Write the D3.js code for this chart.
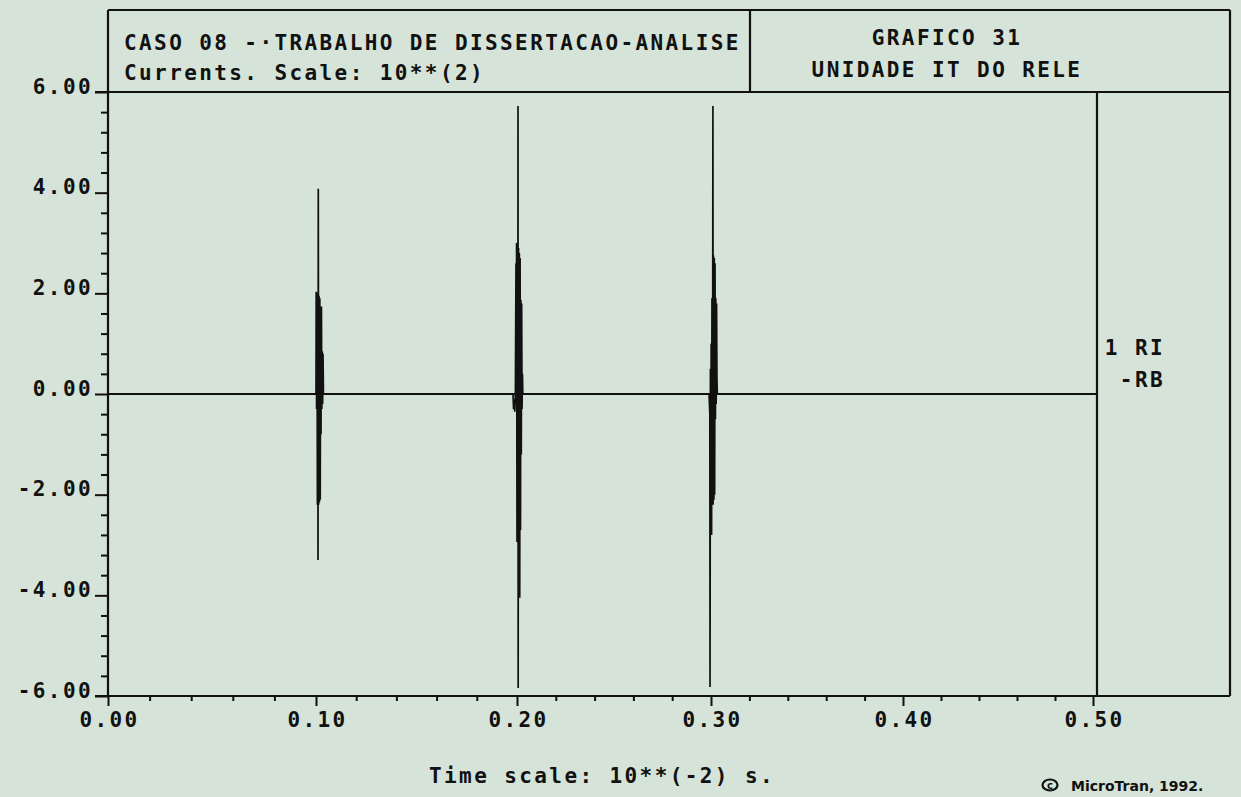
<!DOCTYPE html>
<html>
<head>
<meta charset="utf-8">
<script src="https://cdn.jsdelivr.net/npm/d3@7"></script>
<style>
  html, body { margin: 0; padding: 0; background: #d5e3d8; }
  svg { display: block; }
  .mono { font-family: "DejaVu Sans Mono", monospace; font-weight: bold; font-size: 21px; letter-spacing: 2.4px; fill: #111; }
</style>
</head>
<body>
<svg id="chart" width="1241" height="797"></svg>
<script>
// Header texts
const headerLeft = ["CASO 08 -·TRABALHO DE DISSERTACAO-ANALISE", "Currents. Scale: 10**(2)"];
const headerRight = ["GRAFICO 31", "UNIDADE IT DO RELE"];
const legendLines = ["1 RI", "-RB"];
const xTitle = "Time scale: 10**(-2) s.";
const credit = "MicroTran, 1992.";

// Axis ticks
const xMajorTicks = [0.00, 0.10, 0.20, 0.30, 0.40, 0.50];
const xMajorLabels = ["0.00", "0.10", "0.20", "0.30", "0.40", "0.50"];
const xMinorTicks = [0.02, 0.04, 0.06, 0.08, 0.12, 0.14, 0.16, 0.18, 0.22, 0.24, 0.26, 0.28,
                     0.32, 0.34, 0.36, 0.38, 0.42, 0.44, 0.46, 0.48];
const yMajorTicks = [-6, -4, -2, 0, 2, 4, 6];
const yMajorLabels = ["-6.00", "-4.00", "-2.00", "0.00", "2.00", "4.00", "6.00"];
const yMinorTicks = [-5.6, -5.2, -4.8, -4.4, -3.6, -3.2, -2.8, -2.4, -1.6, -1.2, -0.8, -0.4,
                     0.4, 0.8, 1.2, 1.6, 2.4, 2.8, 3.2, 3.6, 4.4, 4.8, 5.2, 5.6];

// Current RI-RB (x 10**2 A) against time (x 10**-2 s)
const timeValues = [
  0.0000, 0.1000,
  0.1001, 0.1003, 0.1005, 0.1007, 0.1009, 0.1010, 0.10114, 0.1013, 0.1015, 0.1017,
  0.1019, 0.1021, 0.1023, 0.1025, 0.1027, 0.1029, 0.1031, 0.1033, 0.1035, 0.1037,
  0.1980,
  0.1983, 0.1986, 0.1989, 0.1992, 0.19950, 0.19965, 0.1998, 0.2000, 0.2002, 0.2004,
  0.20052, 0.2006, 0.2008, 0.2010, 0.2012, 0.2014, 0.2016, 0.2018, 0.2020, 0.2022,
  0.2024, 0.2026, 0.2028, 0.2030,
  0.2990,
  0.2994, 0.2995, 0.2997, 0.2999, 0.3001, 0.3003, 0.3005, 0.3007, 0.3009, 0.3010,
  0.3011, 0.3013, 0.3015, 0.3017, 0.3019, 0.3021, 0.3023, 0.3025, 0.3027, 0.3029,
  0.3031, 0.3033,
  0.5000
];
const currentValues = [
  0, 0,
  2.03, -0.30, 2.00, -2.20, 2.00, -3.30, 4.08, -2.20, 1.95, -2.15,
  1.90, -2.10, 1.74, -0.80, 1.74, -0.30, 0.85, -0.20, 0.80, 0,
  0,
  -0.30, -0.10, -0.35, 0.05, 2.60, -0.20, 3.00, -2.94, 2.95, -2.90,
  5.72, -5.84, 2.90, -2.85, 2.80, -4.05, 2.70, -2.70, 1.87, -1.20,
  1.80, -0.30, 0.40, 0,
  0,
  -0.40, -5.82, 0.50, -2.20, 1.00, -2.80, 1.90, -2.20, 2.00, 5.72,
  -2.20, 2.75, -2.10, 2.70, -2.00, 2.60, -0.50, 1.90, -0.20, 1.80,
  0.30, 0,
  0
];

const svg = d3.select("#chart");
const ink = "#111";

// Frame geometry
const plotLeft = 108, plotRight = 1230, plotTop = 92, plotBottom = 696, headTop = 10;
const headSplit = 750, legendSplit = 1097;

const x = d3.scaleLinear()
  .domain(xMajorTicks)
  .range([108, 316, 517, 711, 903, 1093]);
const y = d3.scaleLinear().domain([-6, 6]).range([plotBottom, plotTop]);

svg.append("rect").attr("width", 1241).attr("height", 797).attr("fill", "#d5e3d8");

// Boxes and dividers
const frame = svg.append("g").attr("stroke", ink).attr("stroke-width", 2.2).attr("fill", "none");
frame.append("line").attr("x1", plotLeft).attr("x2", plotRight).attr("y1", headTop).attr("y2", headTop);
frame.append("line").attr("x1", plotLeft - 13).attr("x2", plotRight).attr("y1", plotTop).attr("y2", plotTop);
frame.append("line").attr("x1", plotLeft - 13).attr("x2", plotRight).attr("y1", plotBottom).attr("y2", plotBottom);
frame.append("line").attr("x1", plotLeft).attr("x2", plotLeft).attr("y1", headTop).attr("y2", plotBottom);
frame.append("line").attr("x1", plotRight).attr("x2", plotRight).attr("y1", headTop).attr("y2", plotBottom);
frame.append("line").attr("x1", headSplit).attr("x2", headSplit).attr("y1", headTop).attr("y2", plotTop);
frame.append("line").attr("x1", legendSplit).attr("x2", legendSplit).attr("y1", plotTop).attr("y2", plotBottom);

// Y axis ticks
const yMinor = svg.append("g").attr("transform", `translate(${plotLeft},0)`)
  .call(d3.axisLeft(y).tickValues(yMinorTicks).tickSize(7).tickFormat(""));
const yMajor = svg.append("g").attr("transform", `translate(${plotLeft},0)`)
  .call(d3.axisLeft(y).tickValues(yMajorTicks).tickSize(13).tickPadding(2)
    .tickFormat((d, i) => yMajorLabels[i]));
[yMinor, yMajor].forEach(g => {
  g.select(".domain").remove();
  g.selectAll(".tick line").attr("stroke", ink).attr("stroke-width", 2);
});
yMajor.attr("font-family", null).attr("font-size", null);
yMajor.selectAll(".tick text").attr("class", "mono").attr("dy", null).attr("y", 1);

// X axis ticks
const xMinor = svg.append("g").attr("transform", `translate(0,${plotBottom})`)
  .call(d3.axisBottom(x).tickValues(xMinorTicks).tickSize(5).tickFormat(""));
const xMajor = svg.append("g").attr("transform", `translate(0,${plotBottom})`)
  .call(d3.axisBottom(x).tickValues(xMajorTicks).tickSize(10)
    .tickFormat((d, i) => xMajorLabels[i]));
[xMinor, xMajor].forEach(g => {
  g.select(".domain").remove();
  g.selectAll(".tick line").attr("stroke", ink).attr("stroke-width", 2);
});
xMajor.attr("font-family", null).attr("font-size", null);
xMajor.selectAll(".tick text").attr("class", "mono").attr("dy", null).attr("y", 31)
  .attr("dx", 1);

// Zero reference line
svg.append("line")
  .attr("x1", x(0)).attr("x2", legendSplit)
  .attr("y1", y(0)).attr("y2", y(0))
  .attr("stroke", ink).attr("stroke-width", 2);

// Current trace
const series = timeValues.map((t, i) => [t, currentValues[i]]);
svg.append("path")
  .datum(series)
  .attr("fill", "none")
  .attr("stroke", ink)
  .attr("stroke-width", 1.7)
  .attr("stroke-linejoin", "miter")
  .attr("d", d3.line().x(d => x(d[0])).y(d => y(d[1])));

// Header texts
svg.append("text").attr("class", "mono").attr("x", 124).attr("y", 50).text(headerLeft[0]);
svg.append("text").attr("class", "mono").attr("x", 124).attr("y", 80).text(headerLeft[1]);
svg.append("text").attr("class", "mono").attr("x", 947).attr("y", 45)
  .attr("text-anchor", "middle").text(headerRight[0]);
svg.append("text").attr("class", "mono").attr("x", 947).attr("y", 77)
  .attr("text-anchor", "middle").text(headerRight[1]);

// Legend
svg.append("text").attr("class", "mono").attr("x", 1165).attr("y", 355)
  .attr("text-anchor", "end").text(legendLines[0]);
svg.append("text").attr("class", "mono").attr("x", 1165).attr("y", 387)
  .attr("text-anchor", "end").text(legendLines[1]);

// Axis title
svg.append("text").attr("class", "mono").attr("x", 602).attr("y", 783)
  .attr("text-anchor", "middle").text(xTitle);

// Credit line: copyright mark as an oval with a small c
svg.append("ellipse").attr("cx", 1050).attr("cy", 785).attr("rx", 7.5).attr("ry", 5.5)
  .attr("fill", "none").attr("stroke", ink).attr("stroke-width", 2.2);
svg.append("text").attr("x", 1050).attr("y", 789)
  .attr("text-anchor", "middle")
  .style("font-family", "DejaVu Sans").style("font-weight", "bold")
  .style("font-size", "10px").style("fill", ink)
  .text("c");
svg.append("text").attr("x", 1071).attr("y", 791)
  .style("font-family", "DejaVu Sans").style("font-weight", "bold")
  .style("font-size", "14px").style("fill", ink)
  .text(credit);
</script>
</body>
</html>
